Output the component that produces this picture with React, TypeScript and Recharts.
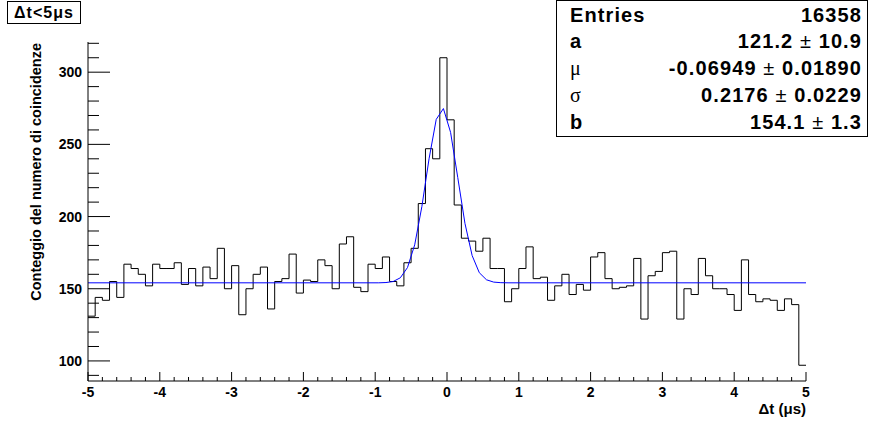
import React from 'react';
import { ComposedChart, Line, XAxis, YAxis, Label } from 'recharts';

// histogram: 100 bins of 0.1 us between -5 and 5
const binLow = -5;
const binWidth = 0.1;
const counts = [
  131, 144, 142, 155, 144, 167, 164, 160, 152, 167,
  164, 164, 168, 153, 164, 152, 165, 157, 178, 150,
  166, 132, 150, 160, 165, 136, 155, 157, 174, 147,
  156, 155, 170, 166, 150, 181, 186, 151, 148, 167,
  164, 172, 155, 152, 168, 178, 209, 247, 240, 310,
  267, 208, 185, 183, 176, 185, 164, 164, 141, 150,
  164, 179, 157, 158, 142, 152, 160, 146, 153, 149,
  172, 175, 157, 150, 151, 152, 171, 129, 159, 162,
  175, 176, 129, 150, 146, 171, 159, 150, 150, 146,
  135, 170, 146, 141, 143, 142, 135, 143, 139, 97,
];

// gaussian + constant fit
const fitX = [-5, -0.95, -0.85, -0.75, -0.65, -0.55, -0.45, -0.35, -0.25, -0.15, -0.05, 0.05, 0.15, 0.25, 0.35, 0.45, 0.55, 0.65, 0.75, 0.85, 5];
const fitY = [154.1, 154.1, 154.3, 155.0, 157.6, 164.7, 180.4, 206.9, 240.0, 267.3, 274.8, 258.3, 227.0, 195.3, 173.0, 161.1, 156.2, 154.6, 154.2, 154.1, 154.1];

const xMajor = [-5, -4, -3, -2, -1, 0, 1, 2, 3, 4, 5];
const yMajor = [100, 150, 200, 250, 300];

const stats = [
  { label: 'Entries', value: '16358', err: '' },
  { label: 'a', value: '121.2', err: '10.9' },
  { label: 'μ', value: '-0.06949', err: '0.01890' },
  { label: 'σ', value: '0.2176', err: '0.0229' },
  { label: 'b', value: '154.1', err: '1.3' },
];

const FONT = '"Liberation Sans", Arial, Helvetica, sans-serif';

const histData = counts.map((c, i) => ({ x: binLow + i * binWidth, count: c }));
histData.push({ x: binLow + counts.length * binWidth, count: counts[counts.length - 1] });

const fitData = fitX.map((x, i) => ({ x, fit: fitY[i] }));

// minor ticks every 0.2 on x, every 10 on y
const xTicks: number[] = [];
for (let i = 0; i <= 50; i++) xTicks.push(Math.round((-5 + i * 0.2) * 10) / 10);
const yTicks: number[] = [];
for (let v = 90; v <= 320; v += 10) yTicks.push(v);

function XTick(props: any) {
  const { x, y, payload } = props;
  const v = payload.value;
  const major = xMajor.some((m) => Math.abs(m - v) < 1e-6);
  return (
    <g>
      <line x1={x} x2={x} y1={y} y2={y - (major ? 9 : 4)} stroke="#000" />
      {major && (
        <text x={x} y={y + 16} textAnchor="middle" fontFamily={FONT} fontWeight="bold" fontSize={14} fill="#000">
          {Math.round(v)}
        </text>
      )}
    </g>
  );
}

function YTick(props: any) {
  const { x, y, payload } = props;
  const v = payload.value;
  const major = yMajor.includes(v);
  return (
    <g>
      <line x1={x} x2={x + (major ? 22 : 11)} y1={y} y2={y} stroke="#000" />
      {major && (
        <text x={x - 6} y={y + 5} textAnchor="end" fontFamily={FONT} fontWeight="bold" fontSize={14} fill="#000">
          {v}
        </text>
      )}
    </g>
  );
}

function YTitle() {
  return (
    <text
      x={41}
      y={43}
      transform="rotate(-90, 41, 43)"
      textAnchor="end"
      fontFamily={FONT}
      fontWeight="bold"
      fontSize={14.5}
      fill="#000"
    >
      Conteggio del numero di coincidenze
    </text>
  );
}

function XTitle() {
  return (
    <text x={806} y={414} textAnchor="end" fontFamily={FONT} fontWeight="bold" fontSize={15} fill="#000">
      Δt (μs)
    </text>
  );
}

export default function App() {
  return (
    <div style={{ position: 'absolute', left: 0, top: 0, width: 869, height: 423, background: '#fff' }}>
      <ComposedChart width={869} height={423} margin={{ top: 42, right: 63, bottom: 0, left: 0 }}>
        <XAxis
          dataKey="x"
          type="number"
          domain={[-5, 5]}
          ticks={xTicks}
          interval={0}
          height={42}
          tickSize={0}
          tickMargin={0}
          tick={<XTick />}
          axisLine={{ stroke: '#000' }}
          allowDataOverflow
        >
          <Label content={<XTitle />} />
        </XAxis>
        <XAxis xAxisId="top" orientation="top" type="number" domain={[-5, 5]} height={0} tick={false} tickLine={false} axisLine={{ stroke: '#000' }} />
        <YAxis
          type="number"
          domain={[86.1, 320.9]}
          ticks={yTicks}
          interval={0}
          width={88}
          tickSize={0}
          tickMargin={0}
          tick={<YTick />}
          axisLine={{ stroke: '#000' }}
          allowDataOverflow
        >
          <Label content={<YTitle />} />
        </YAxis>
        <YAxis yAxisId="right" orientation="right" type="number" domain={[86.1, 320.9]} width={0} tick={false} tickLine={false} axisLine={{ stroke: '#000' }} />
        <Line
          data={histData}
          dataKey="count"
          type="stepAfter"
          stroke="#000"
          strokeWidth={1}
          dot={false}
          activeDot={false}
          isAnimationActive={false}
        />
        <Line
          data={fitData}
          dataKey="fit"
          type="linear"
          stroke="#0000ff"
          strokeWidth={1}
          dot={false}
          activeDot={false}
          isAnimationActive={false}
        />
      </ComposedChart>
      <svg width={869} height={423} style={{ position: 'absolute', left: 0, top: 0, pointerEvents: 'none' }}>
        <rect x={7.5} y={1.5} width={73} height={22} fill="#fff" stroke="#000" />
        <text x={44} y={18} textAnchor="middle" fontFamily={FONT} fontWeight="bold" fontSize={16} letterSpacing={1} fill="#000">
          Δt&lt;5μs
        </text>
        <rect x={556.5} y={0.5} width={311} height={136} fill="#fff" stroke="#000" />
        {stats.map((s, i) => {
          const base = 21.7 + i * 26.7;
          const symbol = s.label === 'μ' || s.label === 'σ';
          return (
            <g key={s.label}>
              <text
                x={570}
                y={base}
                fontFamily={symbol ? '"Liberation Serif", "Times New Roman", serif' : FONT}
                fontWeight={symbol ? 'normal' : 'bold'}
                fontSize={20}
                letterSpacing={1.1}
                fill="#000"
              >
                {s.label}
              </text>
              <text x={862} y={base} textAnchor="end" fontFamily={FONT} fontWeight="bold" fontSize={20} letterSpacing={1.1} fill="#000">
                {s.value}
                {s.err && <tspan fontWeight="normal"> ± </tspan>}
                {s.err}
              </text>
            </g>
          );
        })}
      </svg>
    </div>
  );
}
